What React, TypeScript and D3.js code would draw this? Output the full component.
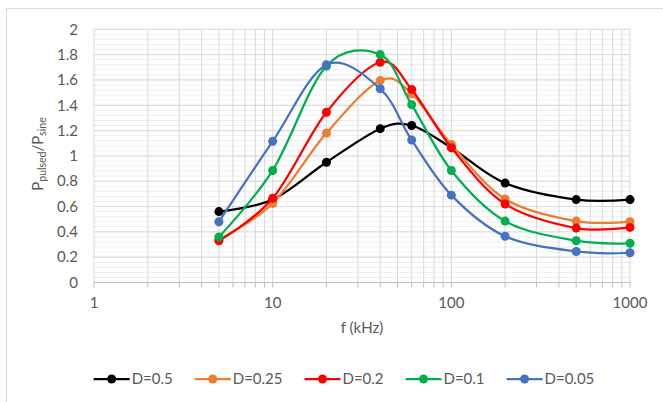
import React from "react";
import * as d3 from "d3";

// Frequencies (kHz) at which each duty cycle was measured
const freqs = [5, 10, 20, 40, 60, 100, 200, 500, 1000];

// Power ratio P_pulsed / P_sine for each duty cycle D
const seriesNames = ["D=0.5", "D=0.25", "D=0.2", "D=0.1", "D=0.05"];
const seriesColors = ["#000000", "#ED7D31", "#FF0000", "#00B050", "#4472C4"];
const dHalf = [0.56, 0.655, 0.95, 1.215, 1.24, 1.065, 0.785, 0.655, 0.655];
const dQuarter = [0.34, 0.625, 1.18, 1.595, 1.49, 1.09, 0.66, 0.485, 0.48];
const dFifth = [0.33, 0.665, 1.345, 1.74, 1.525, 1.065, 0.62, 0.43, 0.435];
const dTenth = [0.36, 0.885, 1.71, 1.8, 1.405, 0.885, 0.485, 0.33, 0.31];
const dTwentieth = [0.48, 1.115, 1.72, 1.53, 1.125, 0.69, 0.365, 0.245, 0.235];
const seriesValues = [dHalf, dQuarter, dFifth, dTenth, dTwentieth];

// Axis ticks
const xTickValues = [1, 10, 100, 1000];
const xTickLabels = ["1", "10", "100", "1000"];
const yTickValues = [0, 0.2, 0.4, 0.6, 0.8, 1, 1.2, 1.4, 1.6, 1.8, 2];
const yTickLabels = ["0", "0.2", "0.4", "0.6", "0.8", "1", "1.2", "1.4", "1.6", "1.8", "2"];

const W = 663;
const H = 402;
const FONT = "Lato, 'Open Sans', sans-serif";
const TEXT = "#595959";

const measure = (() => {
  let ctx: CanvasRenderingContext2D | null = null;
  return (s: string, size: number) => {
    if (!ctx) ctx = document.createElement("canvas").getContext("2d");
    if (!ctx) return s.length * size * 0.55;
    ctx.font = `${size}px Lato`;
    return ctx.measureText(s).width;
  };
})();

export default function App() {
  const x = d3.scaleLog().domain([1, 1000]).range([94, 630]);
  const y = d3.scaleLinear().domain([0, 2]).range([282.5, 29.3]);

  // minor decade positions for vertical gridlines and axis ticks
  const logTicks: number[] = [];
  for (let dec = 1; dec < 1000; dec *= 10) {
    for (let k = 1; k < 10; k++) logTicks.push(dec * k);
  }
  logTicks.push(1000);

  const minorY: number[] = d3.range(0, 2.0001, 0.04);

  const line = d3
    .line<number>()
    .x((_, i) => x(freqs[i]))
    .y((v) => y(v))
    .curve(d3.curveCardinal.tension(0));

  // legend layout, centred under the chart
  const fs = 15;
  const symW = 36;
  const gap = 22;
  const widths = seriesNames.map((n) => symW + 2 + measure(n, fs));
  const total = d3.sum(widths) + gap * (seriesNames.length - 1);
  let lx = 344 - total / 2;
  const legendX = widths.map((w) => {
    const p = lx;
    lx += w + gap;
    return p;
  });
  const legendY = 379;

  return (
    <svg
      width={W}
      height={H}
      style={{ position: "absolute", left: 0, top: 0, background: "#fff" }}
      fontFamily={FONT}
    >
      <rect x={6.5} y={8.5} width={700} height={500} fill="#fff" stroke="#D9D9D9" />

      {/* horizontal minor gridlines */}
      {minorY.map((v, i) => (
        <line key={`hm${i}`} x1={x(1)} x2={x(1000)} y1={y(v)} y2={y(v)} stroke="#EFEFEF" strokeWidth={1} />
      ))}
      {/* horizontal major gridlines */}
      {yTickValues.map((v, i) => (
        <line key={`hM${i}`} x1={x(1)} x2={x(1000)} y1={y(v)} y2={y(v)} stroke="#D9D9D9" strokeWidth={1} />
      ))}
      {/* vertical gridlines */}
      {logTicks.map((v, i) => (
        <line key={`v${i}`} x1={x(v)} x2={x(v)} y1={y(2)} y2={y(0)} stroke="#D9D9D9" strokeWidth={1} />
      ))}

      {/* x axis line and ticks */}
      <line x1={x(1)} x2={x(1000)} y1={y(0)} y2={y(0)} stroke="#BFBFBF" strokeWidth={1} />
      {logTicks.map((v, i) => (
        <line key={`t${i}`} x1={x(v)} x2={x(v)} y1={y(0)} y2={y(0) + 5} stroke="#BFBFBF" strokeWidth={1} />
      ))}

      {/* tick labels */}
      {yTickValues.map((v, i) => (
        <text key={`yl${i}`} x={78} y={y(v)} dy="0.35em" textAnchor="end" fontSize={fs} fill={TEXT}>
          {yTickLabels[i]}
        </text>
      ))}
      {xTickValues.map((v, i) => (
        <text key={`xl${i}`} x={x(v)} y={308} textAnchor="middle" fontSize={fs} fill={TEXT}>
          {xTickLabels[i]}
        </text>
      ))}

      {/* axis titles */}
      <text x={(x(1) + x(1000)) / 2} y={333} textAnchor="middle" fontSize={fs} fill={TEXT}>
        f (kHz)
      </text>
      <text transform="translate(43,154) rotate(-90)" textAnchor="middle" fontSize={fs} fill={TEXT}>
        P<tspan fontSize={10.5} dy={3}>pulsed</tspan>
        <tspan dy={-3}>/P</tspan>
        <tspan fontSize={10.5} dy={3}>sine</tspan>
      </text>

      {/* series */}
      {seriesValues.map((vals, s) => (
        <g key={`s${s}`}>
          <path d={line(vals) || ""} fill="none" stroke={seriesColors[s]} strokeWidth={2.25} />
          {vals.map((v, i) => (
            <circle key={i} cx={x(freqs[i])} cy={y(v)} r={4.5} fill={seriesColors[s]} />
          ))}
        </g>
      ))}

      {/* legend */}
      {seriesNames.map((n, s) => (
        <g key={`lg${s}`}>
          <line
            x1={legendX[s]}
            x2={legendX[s] + symW}
            y1={legendY}
            y2={legendY}
            stroke={seriesColors[s]}
            strokeWidth={2.25}
          />
          <circle cx={legendX[s] + symW / 2} cy={legendY} r={4.5} fill={seriesColors[s]} />
          <text x={legendX[s] + symW + 2} y={legendY} dy="0.35em" fontSize={fs} fill={TEXT}>
            {n}
          </text>
        </g>
      ))}
    </svg>
  );
}
